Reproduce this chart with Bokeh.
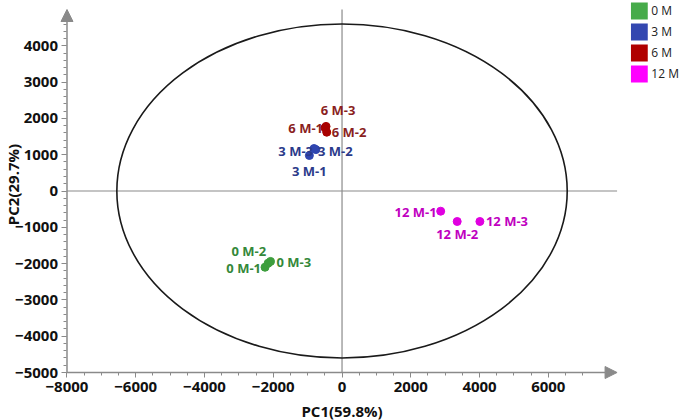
from bokeh.plotting import figure
from bokeh.models import (ColumnDataSource, Range1d, FixedTicker, Arrow, NormalHead,
                          Label, Legend, LegendItem)
from bokeh.embed import file_html
from bokeh.resources import INLINE

# ---------------- data ----------------
groups = ["0 M", "3 M", "6 M", "12 M"]
names = {
    "0 M": ["0 M-1", "0 M-2", "0 M-3"],
    "3 M": ["3 M-1", "3 M-2", "3 M-3"],
    "6 M": ["6 M-1", "6 M-2", "6 M-3"],
    "12 M": ["12 M-1", "12 M-2", "12 M-3"],
}
pc1 = {
    "0 M": [-2240, -2150, -2080],
    "3 M": [-950, -760, -814],
    "6 M": [-494, -445, -465],
    "12 M": [2870, 3350, 4010],
}
pc2 = {
    "0 M": [-2100, -1990, -1940],
    "3 M": [978, 1140, 1170],
    "6 M": [1740, 1620, 1780],
    "12 M": [-556, -840, -840],
}
ellipse_center = (0, 0)
ellipse_semi_axes = (6550, 4600)

x_major = [-8000, -6000, -4000, -2000, 0, 2000, 4000, 6000]
y_major = [-5000, -4000, -3000, -2000, -1000, 0, 1000, 2000, 3000, 4000]
x_minor = list(range(-8000, 7001, 500))
y_minor = list(range(-5000, 4601, 200))
x_arrow_end = 8000
y_arrow_end = 5000
x_label = "PC1(59.8%)"
y_label = "PC2(29.7%)"

# ---------------- styles ----------------
point_colors = {"0 M": "#3d9e3d", "3 M": "#2f45b0", "6 M": "#a80000", "12 M": "#e000e0"}
text_colors = {"0 M": "#34883a", "3 M": "#2b3a8a", "6 M": "#8a1f1f", "12 M": "#c000c0"}
legend_colors = {"0 M": "#46ab4a", "3 M": "#3347b0", "6 M": "#b00000", "12 M": "#ff00ff"}
# label placement: (align, x offset px, y offset px)
label_place = {
    "0 M-1": ("right", -4, 1), "0 M-2": ("right", -2, -12), "0 M-3": ("left", 6, 1),
    "3 M-1": ("center", 0, 15), "3 M-2": ("left", 2, 1), "3 M-3": ("right", -1, 2),
    "6 M-1": ("right", -2, 0), "6 M-2": ("left", 5, 0), "6 M-3": ("center", 12, -16),
    "12 M-1": ("right", -4, 1), "12 M-2": ("center", 0, 13), "12 M-3": ("left", 6, 0),
}
FONT = "Open Sans"
GRAY = "#8a8a8a"

p = figure(width=679, height=420, output_backend="svg", toolbar_location=None,
           x_range=Range1d(-9934, 9816), y_range=Range1d(-6322, 5248),
           min_border_left=0, min_border_right=0, min_border_top=0, min_border_bottom=0)
p.outline_line_color = None
p.grid.visible = False
p.background_fill_color = "white"
p.border_fill_color = "white"

p.xaxis[0].fixed_location = y_major[0]
p.yaxis[0].fixed_location = x_major[0]
for ax, maj, mnr in ((p.xaxis[0], x_major, x_minor), (p.yaxis[0], y_major, y_minor)):
    ax.ticker = FixedTicker(ticks=maj, minor_ticks=mnr)
    ax.axis_line_color = None
    ax.major_tick_line_color = GRAY
    ax.minor_tick_line_color = GRAY
    ax.major_tick_in = 0
    ax.major_tick_out = 5
    ax.minor_tick_in = 0
    ax.minor_tick_out = 3
    ax.major_label_text_font = FONT
    ax.major_label_text_font_style = "bold"
    ax.major_label_text_font_size = "15px"
    ax.major_label_text_color = "#111111"
    ax.major_label_standoff = 4

# axes with arrows
p.add_layout(Arrow(x_start=x_major[0], y_start=y_major[0], x_end=x_arrow_end, y_end=y_major[0],
                   line_color=GRAY, line_width=1.5,
                   end=NormalHead(size=12, fill_color=GRAY, line_color=GRAY)))
p.add_layout(Arrow(x_start=x_major[0], y_start=y_major[0], x_end=x_major[0], y_end=y_arrow_end,
                   line_color=GRAY, line_width=1.5,
                   end=NormalHead(size=12, fill_color=GRAY, line_color=GRAY)))

# crosshair lines through origin
p.segment(x0=[x_major[0], 0], y0=[0, y_major[0]], x1=[x_arrow_end, 0], y1=[0, y_arrow_end],
          line_color=GRAY, line_width=1.2)

# confidence ellipse
p.ellipse(x=[ellipse_center[0]], y=[ellipse_center[1]],
          width=[2 * ellipse_semi_axes[0]], height=[2 * ellipse_semi_axes[1]],
          fill_color=None, line_color="#1a1a1a", line_width=1.6)

legend_items = []
for g in groups:
    src = ColumnDataSource(dict(
        x=pc1[g], y=pc2[g], name=names[g],
        align=[label_place[n][0] for n in names[g]],
        xo=[label_place[n][1] for n in names[g]],
        yo=[label_place[n][2] for n in names[g]],
    ))
    # zero-size rects: only used to draw the square legend swatches
    r = p.rect("x", "y", source=src, width=0, height=0, fill_color=legend_colors[g],
               line_color=None)
    p.scatter("x", "y", source=src, size=8, fill_color=point_colors[g],
              line_color=point_colors[g])
    p.text("x", "y", text="name", source=src, text_align="align", text_baseline="middle",
           x_offset="xo", y_offset="yo", text_color=text_colors[g],
           text_font={"value": FONT}, text_font_style="bold", text_font_size="13px")
    legend_items.append(LegendItem(label=g, renderers=[r]))

legend = Legend(items=legend_items, location="top_right", margin=0, padding=0, spacing=0,
                glyph_width=21, glyph_height=21, label_height=21, label_standoff=2,
                label_text_font=FONT, label_text_font_size="12px",
                label_text_color="#222222", border_line_color=None,
                background_fill_alpha=0)
p.add_layout(legend, "center")

p.add_layout(Label(x=0, y=-6047, text=x_label, text_font=FONT, text_font_style="bold",
                   text_font_size="15px", text_align="center", text_baseline="middle",
                   text_color="#111111"))
p.add_layout(Label(x=-9556, y=179, text=y_label, angle=1.5708, text_font=FONT,
                   text_font_style="bold", text_font_size="15px", text_align="center",
                   text_baseline="middle", text_color="#111111"))

open("out.html", "w").write(file_html(p, INLINE))
